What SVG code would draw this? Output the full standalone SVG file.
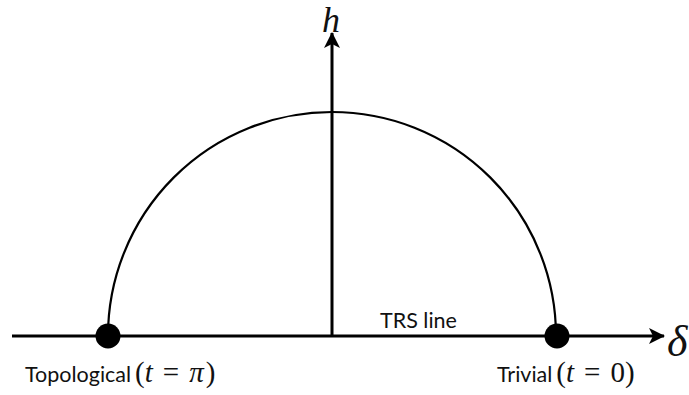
<svg xmlns="http://www.w3.org/2000/svg" width="689" height="395" viewBox="0 0 689 395">
<defs>
<style>
.axis{stroke:#000;stroke-width:3;fill:none}
.arc{stroke:#000;stroke-width:2.2;fill:none}
.lbl{font-family:"Lato","Liberation Sans",sans-serif;font-size:21.5px;fill:#111}
.math{font-family:"Liberation Serif","DejaVu Serif",serif;font-size:29px;fill:#111}
.mathi{font-style:italic}
.dot{fill:#000}
</style>
<marker id="ah" viewBox="0 0 16 16" refX="15" refY="8" markerWidth="16" markerHeight="16" markerUnits="userSpaceOnUse" orient="auto">
<path d="M0,0 L16,8 L0,16 L4,8 Z" fill="#000"/>
</marker>
</defs>
<rect width="689" height="395" fill="#fff"/>
<g id="connectors">
<path class="arc" d="M108,336 A224,224 0 0 1 556,336"/>
<line class="axis" x1="12" y1="336" x2="664" y2="336" marker-end="url(#ah)"/>
<line class="axis" x1="332" y1="336" x2="332" y2="33" marker-end="url(#ah)"/>
</g>
<g id="axis-h"><text class="math mathi" x="322" y="32" style="font-size:36px">h</text></g>
<g id="axis-delta"><text class="math mathi" x="667" y="356" style="font-size:44px">δ</text></g>
<g id="trs"><text class="lbl" x="380" y="328">TRS line</text></g>
<g id="topological">
<circle class="dot" cx="108" cy="336" r="12.5"/>
<text x="25" y="382"><tspan class="lbl">Topological</tspan><tspan class="math" dx="4">(</tspan><tspan class="math mathi">t</tspan><tspan class="math" dx="10">=</tspan><tspan class="math mathi" dx="10">π</tspan><tspan class="math" dx="2">)</tspan></text>
</g>
<g id="trivial">
<circle class="dot" cx="557" cy="336" r="12.5"/>
<text x="497" y="382"><tspan class="lbl">Trivial</tspan><tspan class="math" dx="4">(</tspan><tspan class="math mathi">t</tspan><tspan class="math" dx="10">=</tspan><tspan class="math" dx="10">0)</tspan></text>
</g>
</svg>
